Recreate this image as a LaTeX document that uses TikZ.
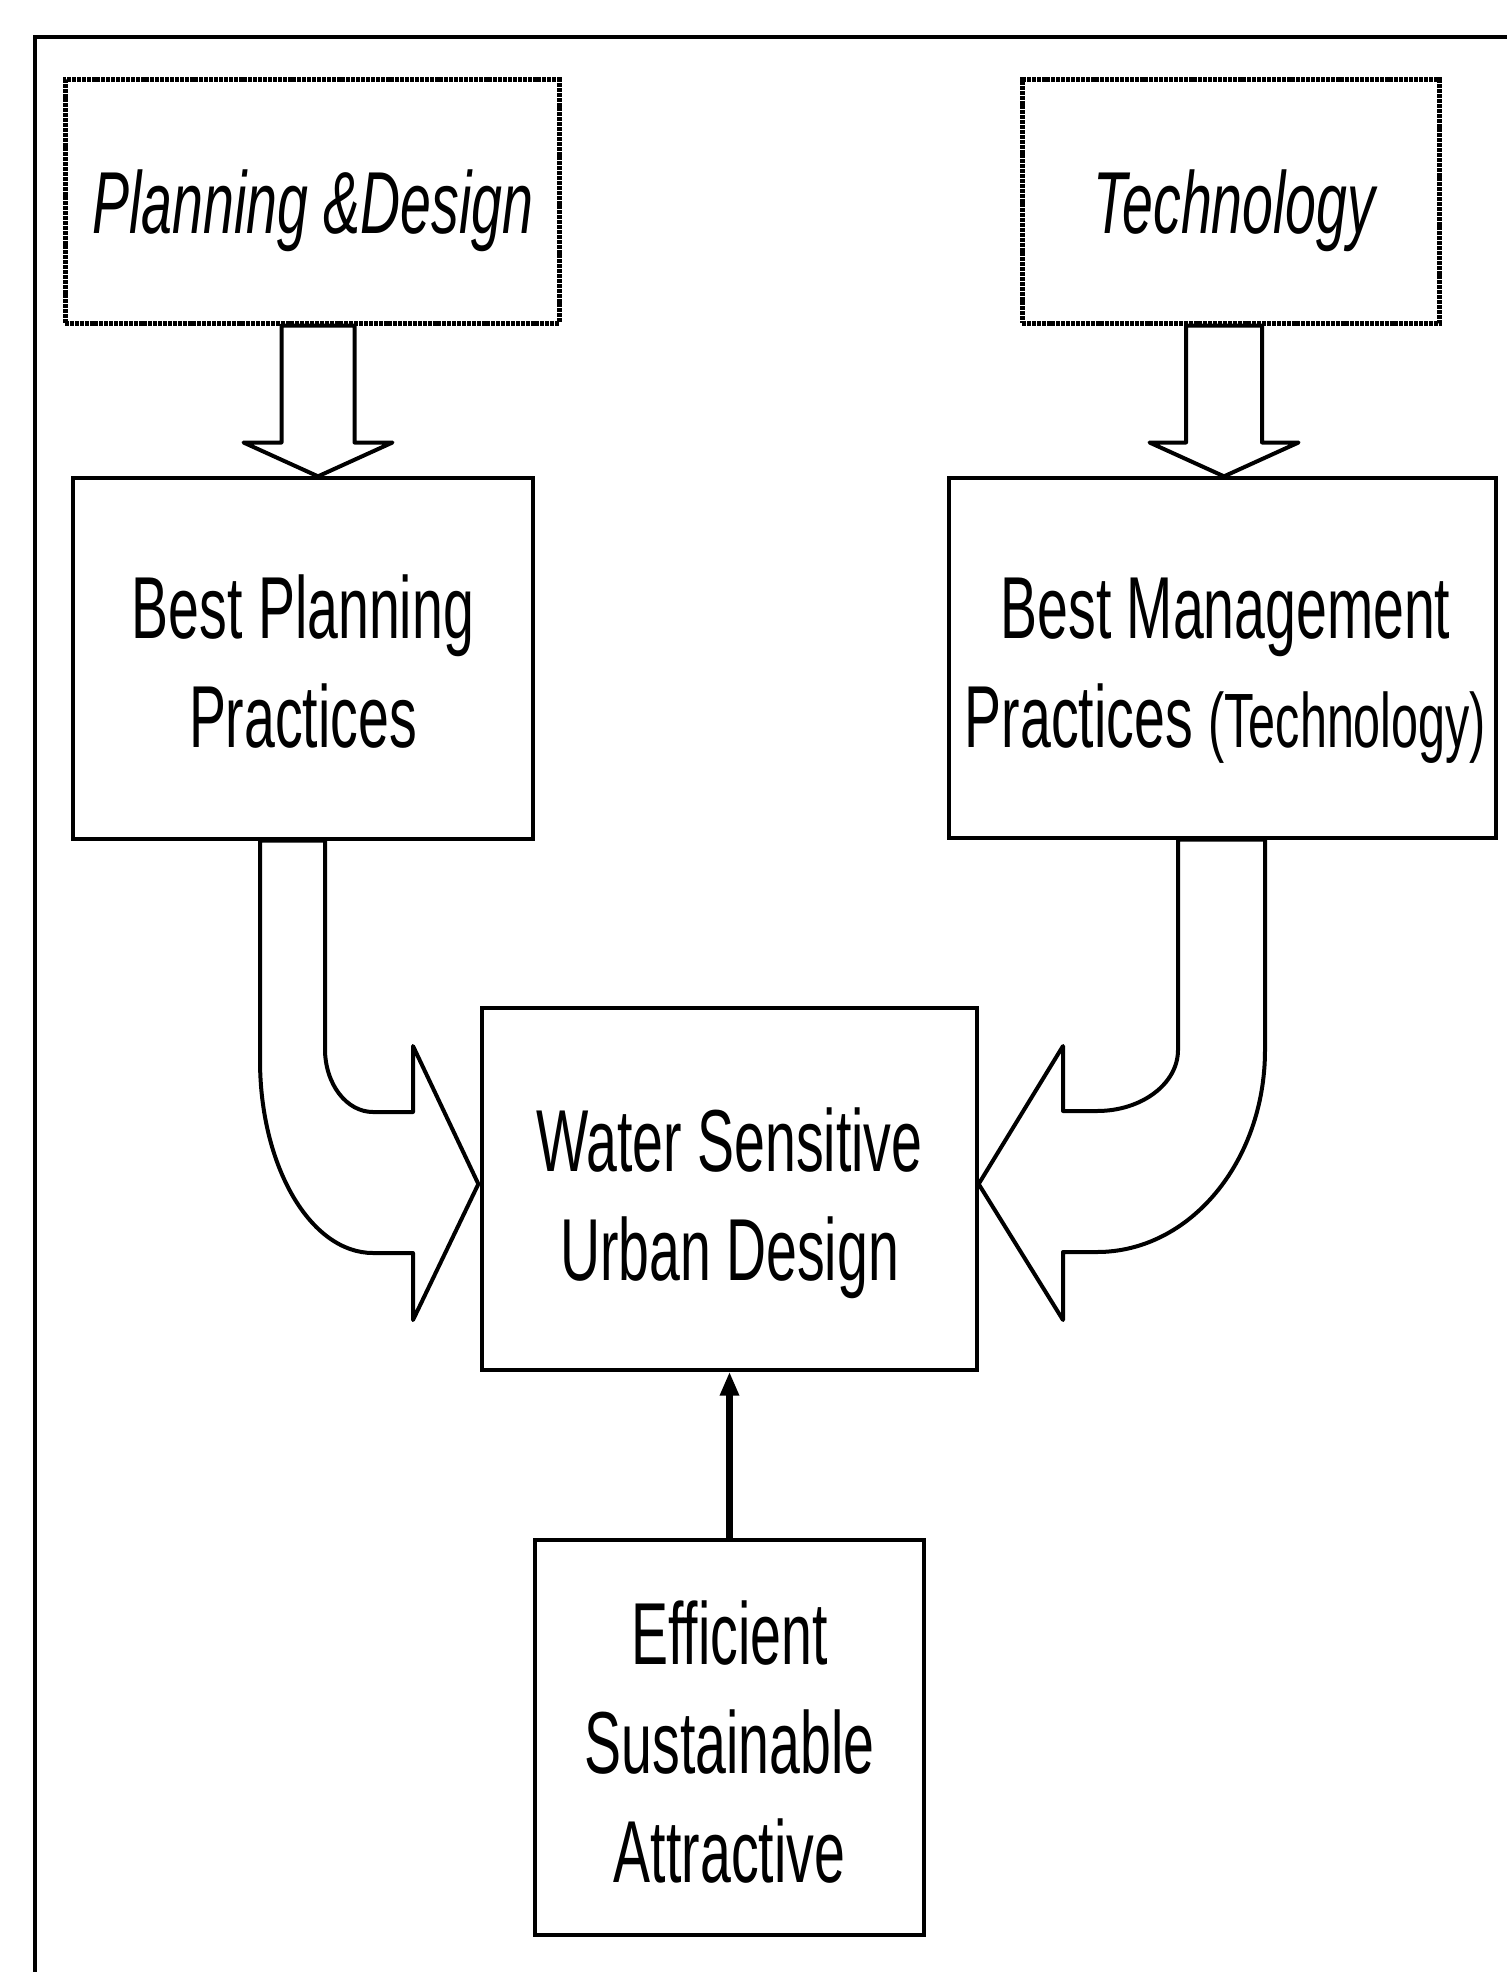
\documentclass[tikz,border=0pt]{standalone}
\usepackage{fontspec}
\setmainfont{Liberation Sans}
\usepackage{graphicx}
\usetikzlibrary{calc,arrows.meta}
\newcommand{\sqz}[1]{\scalebox{0.63}[1]{#1}}
\begin{document}
\begin{tikzpicture}[x=1pt,y=-1pt,
  box/.style={draw, line width=3.3pt, inner sep=0pt, rectangle},
  dotbox/.style={draw, line width=5pt, dash pattern=on 4pt off 0.9pt, inner sep=0pt, rectangle},
  txt/.style={inner sep=0pt, font=\fontsize{88}{109}\selectfont},
  barrow/.style={draw, line width=4pt, fill=white, line join=round},
  thinarrow/.style={line width=7pt, -{Triangle[length=24pt,width=18pt]}}]
\useasboundingbox (0,0) rectangle (1507,1972);
\fill[white] (0,0) rectangle (1507,1972);
% outer frame (only left and top edges visible)
\draw[line width=4pt] (35,1972) -- (35,37) -- (1507,37);

% boxes
\node[dotbox, minimum width=494pt, minimum height=243pt] (pd) at (312,201.5) {};
\node[dotbox, minimum width=417pt, minimum height=243pt] (tech) at (1230.5,201.5) {};
\node[box, minimum width=460pt, minimum height=361pt] (bpp) at (303,658.5) {};
\node[box, minimum width=547pt, minimum height=360pt] (bmp) at (1222.5,658) {};
\node[box, minimum width=495pt, minimum height=362pt] (wsud) at (729.5,1189) {};
\node[box, minimum width=389pt, minimum height=395pt] (esa) at (729.5,1737.5) {};

% straight block arrows
\coordinate (d1top) at ($(pd.south)+(6,0)$);
\coordinate (d1tip) at ($(bpp.north)+(15,0)$);
\begin{scope}[shift={(d1top)}]
\draw[barrow] (-36.5,0) -- (-36.5,117) -- (-74.5,117) -- (d1tip) -- (74.5,117) -- (36.5,117) -- (36.5,0) -- cycle;
\end{scope}
\coordinate (d2top) at ($(tech.south)+(-6.5,0)$);
\coordinate (d2tip) at ($(bmp.north)+(1.5,0)$);
\begin{scope}[shift={(d2top)}]
\draw[barrow] (-38,0) -- (-38,117) -- (-74.5,117) -- (d2tip) -- (74.5,117) -- (38,117) -- (38,0) -- cycle;
\end{scope}

% curved block arrows
\draw[barrow] ($(bpp.south)+(-43,0)$) -- (260,1060)
  .. controls (260,1166.6) and (310.6,1253) .. (373,1253)
  -- (413,1253) -- (413,1320) -- ($(wsud.west)+(-2,-5)$) -- (413,1046) -- (413,1112) -- (373,1112)
  .. controls (346.5,1112) and (325,1084) .. (325,1049)
  -- ($(bpp.south)+(22,0)$) -- cycle;
\draw[barrow] ($(bmp.south)+(42.5,0)$) -- (1265,1050)
  .. controls (1265,1161.6) and (1189.8,1252) .. (1097,1252)
  -- (1063,1252) -- (1063,1320) -- ($(wsud.east)+(0,-5)$) -- (1063,1046) -- (1063,1111) -- (1097,1111)
  .. controls (1141.7,1111) and (1178,1083.7) .. (1178,1050)
  -- ($(bmp.south)+(-44.5,0)$) -- cycle;

% thin arrow
\draw[thinarrow] (esa.north) -- (wsud.south);

% texts
\node[txt] (tpd) at ($(pd.center)+(1,9)$) {\sqz{\itshape Planning \&Design}};
\node[txt] (ttech) at ($(tech.center)+(4,9)$) {\sqz{\itshape Technology}};
\node[txt] (tbpp) at ($(bpp.center)+(0,12.7)$) {\sqz{\begin{tabular}{@{}c@{}}Best Planning\\Practices\end{tabular}}};
\node[txt] (tbmp) at ($(bmp.center)+(3,12.7)$) {\sqz{\begin{tabular}{@{}c@{}}Best Management\\Practices {\fontsize{77}{109}\selectfont(Technology)}\end{tabular}}};
\node[txt] (twsud) at ($(wsud.center)+(0,14.7)$) {\sqz{\begin{tabular}{@{}c@{}}Water Sensitive\\Urban Design\end{tabular}}};
\node[txt] (tesa) at ($(esa.center)+(0,14)$) {\sqz{\begin{tabular}{@{}c@{}}Efficient\\Sustainable\\Attractive\end{tabular}}};
\end{tikzpicture}
\end{document}
